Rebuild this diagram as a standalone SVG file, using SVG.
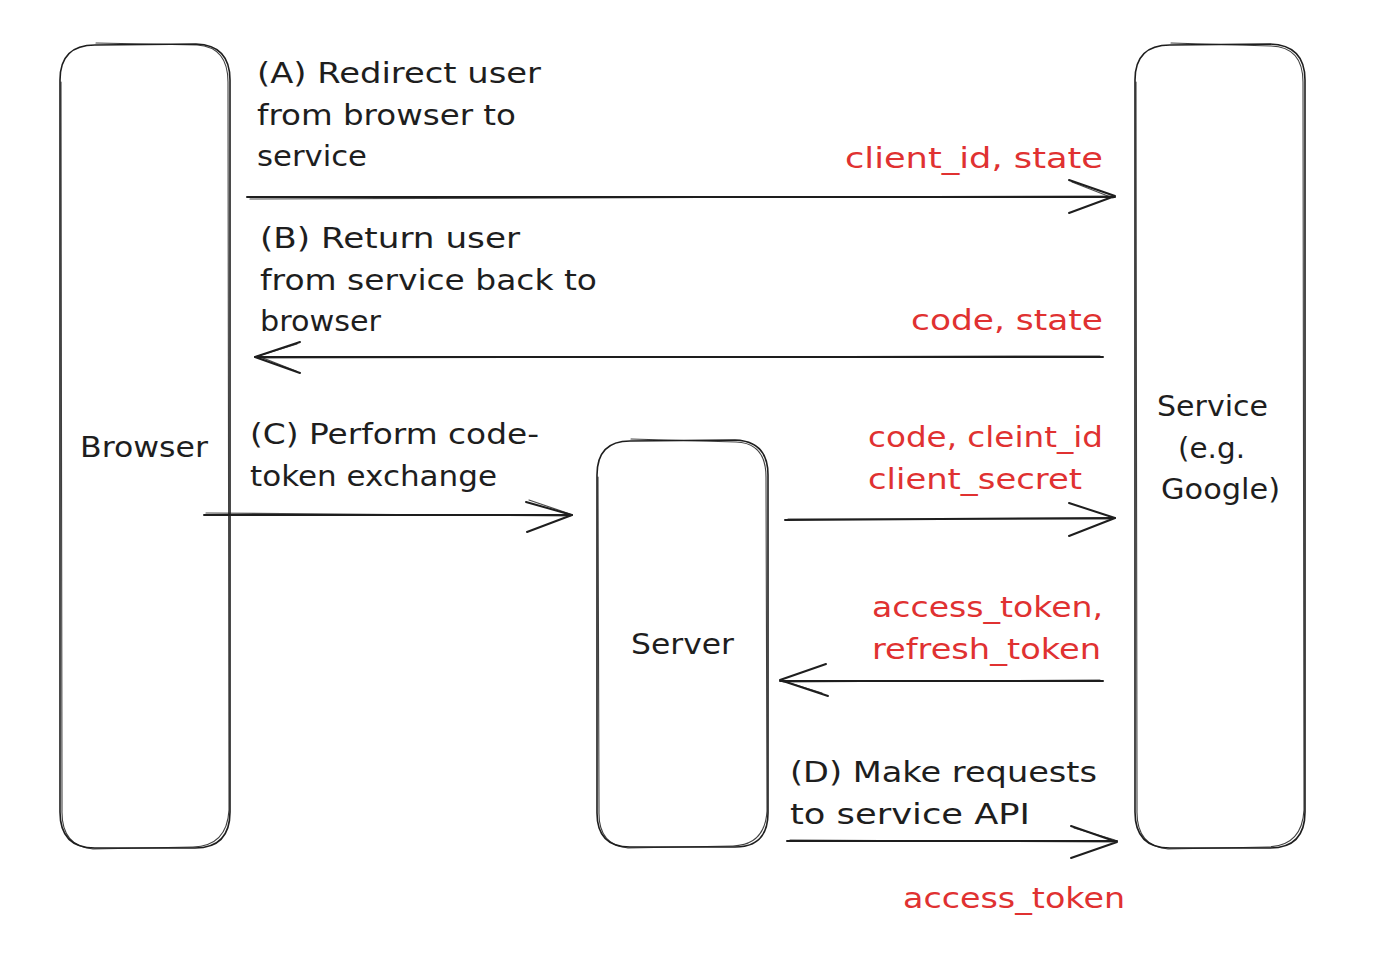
<svg xmlns="http://www.w3.org/2000/svg" width="1376" height="960" viewBox="0 0 1376 960">
<style>
.box{fill:none;stroke:#1e1e1e;stroke-width:1.6;stroke-linecap:round;stroke-linejoin:round}
.box2{fill:none;stroke:#1e1e1e;stroke-width:1.1;stroke-linecap:round;opacity:.85}
.ln{fill:none;stroke:#1e1e1e;stroke-width:2;stroke-linecap:round;stroke-linejoin:round}
.ln2{fill:none;stroke:#1e1e1e;stroke-width:1.2;stroke-linecap:round;opacity:.8}
.t{font-family:"DejaVu Sans","Liberation Sans",sans-serif;font-size:29px;fill:#1e1e1e}
.r{font-family:"DejaVu Sans","Liberation Sans",sans-serif;font-size:29px;fill:#e03131}
</style>
<rect width="1376" height="960" fill="#ffffff"/>

<g id="browser">
  <path class="box" d="M95 45 L196 44 Q230 45 230 80 L230 812 Q230 848 195 848 L95 848 Q60 848 60 812 L60 80 Q60 45 95 45 Z"/>
  <path class="box2" d="M96 43 L197 45 Q228 47 228 82 L229 810 Q227 846 193 847 L93 849 Q61 846 62 810 L61 82"/>
  <text class="t" x="80" y="457" textLength="128" lengthAdjust="spacingAndGlyphs">Browser</text>
</g>

<g id="service">
  <path class="box" d="M1170 45 L1270 44 Q1305 45 1305 80 L1305 812 Q1305 848 1270 848 L1170 848 Q1135 848 1135 812 L1135 80 Q1135 45 1170 45 Z"/>
  <path class="box2" d="M1171 43 L1271 46 Q1303 47 1303 82 L1304 810 Q1302 846 1268 847 L1168 849 Q1136 846 1137 810 L1136 82"/>
  <text class="t" x="1157" y="416" textLength="111" lengthAdjust="spacingAndGlyphs">Service</text>
  <text class="t" x="1178" y="458" textLength="67" lengthAdjust="spacingAndGlyphs">(e.g.</text>
  <text class="t" x="1161" y="499" textLength="119" lengthAdjust="spacingAndGlyphs">Google)</text>
</g>

<g id="server">
  <path class="box" d="M630 441 L735 440 Q768 441 768 475 L768 813 Q768 847 735 847 L630 847 Q597 847 597 813 L597 475 Q597 441 630 441 Z"/>
  <path class="box2" d="M631 439 L736 442 Q766 443 766 477 L767 811 Q765 845 733 846 L628 848 Q598 845 599 811 L598 477"/>
  <text class="t" x="631" y="654" textLength="103" lengthAdjust="spacingAndGlyphs">Server</text>
</g>

<g id="connectors">
  <!-- A -->
  <path class="ln" d="M247 197 L1115 197"/>
  <path class="ln2" d="M250 199 L1112 196"/>
  <path class="ln" d="M1069 180 L1115 196 L1069 213"/>
  <path class="ln2" d="M1072 182 L1113 198"/>
  <!-- B -->
  <path class="ln" d="M1103 357 L255 357"/>
  <path class="ln2" d="M1100 356 L258 358"/>
  <path class="ln" d="M300 342 L255 357 L300 373"/>
  <path class="ln2" d="M297 344 L258 356 L296 371"/>
  <!-- C -->
  <path class="ln" d="M204 515 L572 515"/>
  <path class="ln2" d="M206 513 L570 516"/>
  <path class="ln" d="M526 502 L572 515 L527 532"/>
  <path class="ln2" d="M529 500 L570 514"/>
  <!-- server to service -->
  <path class="ln" d="M785 520 L1115 518"/>
  <path class="ln2" d="M788 519 L1112 519"/>
  <path class="ln" d="M1069 503 L1115 518 L1069 536"/>
  <!-- service to server -->
  <path class="ln" d="M1103 681 L780 681"/>
  <path class="ln2" d="M1100 680 L783 682"/>
  <path class="ln" d="M826 664 L780 680 L828 696"/>
  <path class="ln2" d="M822 693 L783 681"/>
  <!-- D -->
  <path class="ln" d="M787 841 L1117 841"/>
  <path class="ln2" d="M790 840 L1114 842"/>
  <path class="ln" d="M1071 826 L1117 842 L1071 858"/>
  <path class="ln2" d="M1074 828 L1115 840"/>
</g>

<g id="labels">
  <text class="t" x="257" y="83" textLength="284" lengthAdjust="spacingAndGlyphs">(A) Redirect user</text>
  <text class="t" x="257" y="125" textLength="259" lengthAdjust="spacingAndGlyphs">from browser to</text>
  <text class="t" x="257" y="166" textLength="110" lengthAdjust="spacingAndGlyphs">service</text>

  <text class="t" x="260" y="248" textLength="260" lengthAdjust="spacingAndGlyphs">(B) Return user</text>
  <text class="t" x="260" y="290" textLength="337" lengthAdjust="spacingAndGlyphs">from service back to</text>
  <text class="t" x="260" y="331" textLength="121" lengthAdjust="spacingAndGlyphs">browser</text>

  <text class="t" x="250" y="444" textLength="289" lengthAdjust="spacingAndGlyphs">(C) Perform code-</text>
  <text class="t" x="250" y="486" textLength="247" lengthAdjust="spacingAndGlyphs">token exchange</text>

  <text class="t" x="790" y="782" textLength="307" lengthAdjust="spacingAndGlyphs">(D) Make requests</text>
  <text class="t" x="790" y="824" textLength="240" lengthAdjust="spacingAndGlyphs">to service API</text>

  <text class="r" x="845" y="168" textLength="258" lengthAdjust="spacingAndGlyphs">client_id, state</text>
  <text class="r" x="911" y="330" textLength="192" lengthAdjust="spacingAndGlyphs">code, state</text>
  <text class="r" x="868" y="447" textLength="235" lengthAdjust="spacingAndGlyphs">code, cleint_id</text>
  <text class="r" x="868" y="489" textLength="214" lengthAdjust="spacingAndGlyphs">client_secret</text>
  <text class="r" x="872" y="617" textLength="231" lengthAdjust="spacingAndGlyphs">access_token,</text>
  <text class="r" x="872" y="659" textLength="229" lengthAdjust="spacingAndGlyphs">refresh_token</text>
  <text class="r" x="903" y="908" textLength="222" lengthAdjust="spacingAndGlyphs">access_token</text>
</g>
</svg>
